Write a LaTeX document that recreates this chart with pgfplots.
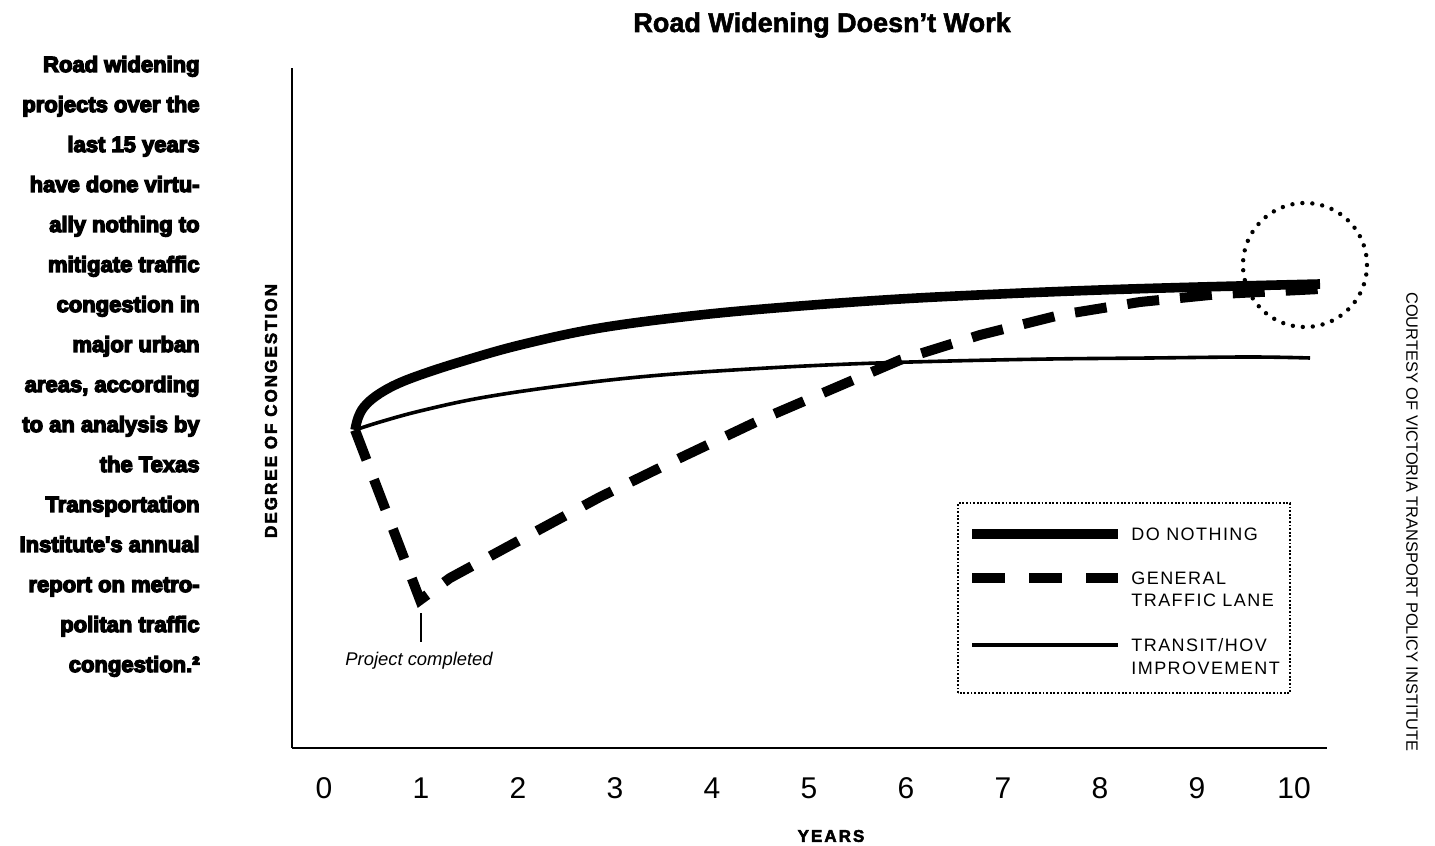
\documentclass[border=0pt]{standalone}
\usepackage{fontspec}
\setmainfont{Liberation Sans}
\newfontfamily\heavyfont[UprightFont={* Bold}, UprightFeatures={FakeBold=6}]{Liberation Sans}
\newfontfamily\titlefont[UprightFont={* Bold}, UprightFeatures={FakeBold=2}]{Liberation Sans}
\newfontfamily\legfont[LetterSpace=8]{Liberation Sans}
\newfontfamily\labfont[LetterSpace=12, UprightFont={* Bold}, UprightFeatures={FakeBold=3}]{Liberation Sans}
\usepackage{pgfplots}
\pgfplotsset{compat=1.18}

\begin{document}
\begin{tikzpicture}
\useasboundingbox (-146pt,-49pt) rectangle (571.5pt,374pt);
\begin{axis}[
  at={(0pt,0pt)}, anchor=south west,
  width=517.5pt, height=340pt, scale only axis,
  xmin=-0.33, xmax=10.34, ymin=0, ymax=680,
  axis x line=bottom, axis y line=left,
  axis line style={-, line width=1.3pt},
  xtick={0,1,2,3,4,5,6,7,8,9,10}, ytick=\empty,
  major tick length=0pt,
  xticklabel style={font=\fontsize{15}{18}\selectfont, anchor=center, yshift=-20pt},
  /pgf/number format/assume math mode=true,
  clip=false,
]
% General traffic lane (dashed)
\addplot[line width=5pt, dash pattern=on 16pt off 10.5pt, line join=miter] coordinates {
 (0.320,318) (0.990,148) (1.299,170) (2.021,208) (2.845,251) (3.670,290)
 (4.495,328) (5.216,358) (5.938,388) (6.763,413) (7.588,433) (8.412,446)
 (9.237,454) (10.268,459)};
% Do nothing (thick)
\addplot[line width=4.8pt, smooth, tension=0.6] coordinates {
 (0.320,318) (0.351,330) (0.412,341) (0.536,352) (0.732,363) (0.990,373)
 (1.402,386) (2.021,403) (2.845,420) (3.876,433) (4.907,442) (5.938,449)
 (6.969,454) (8.0,458) (9.031,461) (10.268,464)};
% Transit/HOV (thin)
\addplot[line width=1.8pt, smooth, tension=0.6] coordinates {
 (0.320,318) (0.577,326) (0.990,337) (1.608,350) (2.433,362) (3.361,372)
 (4.392,379) (5.423,384) (6.454,387) (7.485,389) (8.515,390) (9.546,391)
 (10.165,390)};
% dotted circle
\draw[line width=2.2pt, line cap=round, dash pattern=on 0pt off 5pt]
  (axis cs:10.113,483) circle[radius=31pt];
% project completed marker
\draw[line width=1pt] (axis cs:1,106) -- (axis cs:1,135);
\node[font=\itshape\fontsize{9.2}{11}\selectfont] at (axis cs:0.98,87) {Project completed};
\end{axis}

% Title
\node[anchor=base, font=\titlefont\fontsize{13.5}{16}\selectfont] at (265pt,358pt) {Road Widening Doesn’t Work};

% Left text
\foreach \t [count=\i] in {Road widening, projects over the, last 15 years, have done virtu-,
  ally nothing to, mitigate traffic, congestion in, major urban, {areas, according},
  to an analysis by, the Texas, Transportation, Institute's annual, report on metro-,
  politan traffic, congestion.²}
  \node[anchor=base east, inner sep=0pt, font=\heavyfont\fontsize{11}{13}\selectfont]
    at (-46pt, {338pt-20pt*(\i-1)}) {\t};

% Axis labels
\node[rotate=90, font=\labfont\fontsize{8.5}{10}\selectfont] at (-10.5pt,168.5pt) {DEGREE OF CONGESTION};
\node[font=\labfont\fontsize{8.5}{10}\selectfont] at (269.5pt,-44pt) {YEARS};

% Courtesy
\node[rotate=-90, font=\fontsize{8.2}{10}\selectfont] at (560pt,113pt) {COURTESY OF VICTORIA TRANSPORT POLICY INSTITUTE};

% Legend
\draw[line width=0.9pt, dash pattern=on 0.9pt off 0.9pt] (333pt,27.5pt) rectangle (499pt,122.5pt);
\draw[line width=5pt] (340pt,107pt) -- (413pt,107pt);
\draw[line width=5pt, dash pattern=on 16.5pt off 12pt] (340pt,85pt) -- (413pt,85pt);
\draw[line width=1.8pt] (340pt,51.5pt) -- (413pt,51.5pt);
\begin{scope}[every node/.style={anchor=base west, inner sep=0pt, font=\legfont\fontsize{9}{11}\selectfont}]
\node at (419.5pt,103.8pt) {DO NOTHING};
\node at (419.5pt,81.8pt) {GENERAL};
\node at (419.5pt,70.8pt) {TRAFFIC LANE};
\node at (419.5pt,48.3pt) {TRANSIT/HOV};
\node at (419.5pt,36.8pt) {IMPROVEMENT};
\end{scope}
\end{tikzpicture}
\end{document}
